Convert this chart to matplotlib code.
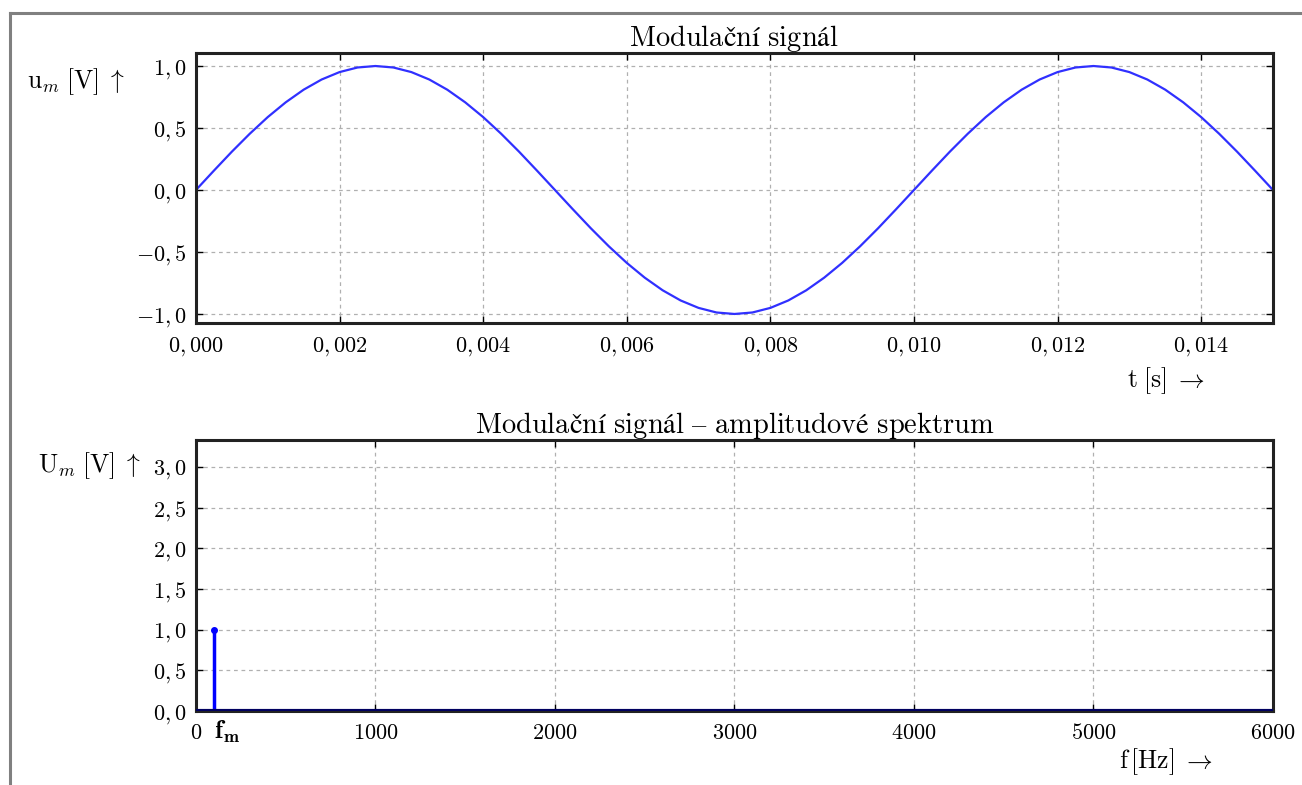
import numpy as np
import matplotlib
matplotlib.use('Agg')
import matplotlib.pyplot as plt
from matplotlib.ticker import FuncFormatter
from matplotlib.lines import Line2D

plt.rcParams['mathtext.fontset'] = 'cm'
plt.rcParams['font.family'] = ['cmr10', 'STIXGeneral']
plt.rcParams['axes.unicode_minus'] = False

# Modulation signal samples (one every 0.25 ms)
u_m = [0.000, 0.156, 0.309, 0.454, 0.588, 0.707, 0.809, 0.891, 0.951, 0.988,
       1.000, 0.988, 0.951, 0.891, 0.809, 0.707, 0.588, 0.454, 0.309, 0.156,
       0.000, -0.156, -0.309, -0.454, -0.588, -0.707, -0.809, -0.891, -0.951, -0.988,
       -1.000, -0.988, -0.951, -0.891, -0.809, -0.707, -0.588, -0.454, -0.309, -0.156,
       0.000, 0.156, 0.309, 0.454, 0.588, 0.707, 0.809, 0.891, 0.951, 0.988,
       1.000, 0.988, 0.951, 0.891, 0.809, 0.707, 0.588, 0.454, 0.309, 0.156,
       0.000]
t_end = 0.015
t = np.linspace(0, t_end, len(u_m))

# Amplitude spectrum
spec_freq = [100]
spec_amp = [1.0]
f_max = 6000

top_xticks = [0.000, 0.002, 0.004, 0.006, 0.008, 0.010, 0.012, 0.014]
top_yticks = [-1.0, -0.5, 0.0, 0.5, 1.0]
bot_xticks = [0, 1000, 2000, 3000, 4000, 5000, 6000]
bot_yticks = [0.0, 0.5, 1.0, 1.5, 2.0, 2.5, 3.0]

fs = 16      # tick labels
fs_t = 20.5  # titles
fs_l = 18.5  # axis labels


def fmt(dec):
    def f(v, pos):
        s = f'{v:.{dec}f}'.replace('.', ',')
        return '$' + s + '$'
    return FuncFormatter(f)


def style(ax):
    for sp in ax.spines.values():
        sp.set_linewidth(2.2)
        sp.set_color('#222222')
    ax.tick_params(direction='in', length=5, width=1, top=True, right=True,
                   labelsize=fs, pad=7)
    ax.tick_params(axis='x', pad=9)
    ax.grid(True, color='#b0b0b0', linestyle=(0, (3, 3)), linewidth=0.9)


fig = plt.figure(figsize=(13.02, 7.85), dpi=100)
ax1 = fig.add_axes([0.1505, 0.5885, 0.8272, 0.344])
ax2 = fig.add_axes([0.1505, 0.0943, 0.8272, 0.3452])

# top: modulation signal
ax1.plot(t, u_m, color='#3030ff', linewidth=1.6)
ax1.set_xlim(0, t_end)
ax1.set_ylim(-1.073, 1.105)
ax1.set_xticks(top_xticks)
ax1.set_yticks(top_yticks)
ax1.xaxis.set_major_formatter(fmt(3))
ax1.yaxis.set_major_formatter(fmt(1))
style(ax1)
ax1.set_title('$\\mathrm{Modulační\\ signál}$', fontsize=fs_t, pad=5)

# bottom: spectrum
ml, sl, bl = ax2.stem(spec_freq, spec_amp, basefmt=' ')
plt.setp(sl, color='blue', linewidth=2.5)
plt.setp(ml, color='blue', markersize=4)
ax2.axhline(0, color='#000060', linewidth=3, zorder=3)
ax2.set_xlim(0, f_max)
ax2.set_ylim(0, 3.33)
ax2.set_xticks(bot_xticks)
ax2.set_yticks(bot_yticks)
ax2.xaxis.set_major_formatter(FuncFormatter(lambda v, p: f'${int(v)}$'))
ax2.yaxis.set_major_formatter(fmt(1))
style(ax2)
ax2.set_title('$\\mathrm{Modulační\\ signál\\ –\\ amplitudové\\ spektrum}$',
              fontsize=fs_t, pad=5)
ax2.text(spec_freq[0], -0.103, '$\\mathbf{f_m}$', transform=ax2.get_xaxis_transform(),
         ha='left', va='baseline', fontsize=fs_l)

# axis labels
fig.text(125 / 1302, 0.8955, '$\\mathrm{u}_m\\;\\mathrm{[V]}\\;\\uparrow$', fontsize=fs_l,
         ha='right', va='center')
fig.text(141 / 1302, 0.4064, '$\\mathrm{U}_m\\;\\mathrm{[V]}\\;\\uparrow$', fontsize=fs_l,
         ha='right', va='center')
fig.text(0.8955, 0.5146, '$\\mathrm{t}\\;\\mathrm{[s]}\\;\\rightarrow$', fontsize=fs_l,
         ha='center', va='center')
fig.text(0.8955, 0.0293, '$\\mathrm{f\\,[Hz]}\\;\\rightarrow$', fontsize=fs_l,
         ha='center', va='center')

# screenshot frame
fig.add_artist(Line2D([0.0073, 1.0], [0.983, 0.983], color='#808080', linewidth=2.2))
fig.add_artist(Line2D([0.0073, 0.0073], [0.0, 0.983], color='#808080', linewidth=2.2))

fig.savefig('out.png', dpi=100)
